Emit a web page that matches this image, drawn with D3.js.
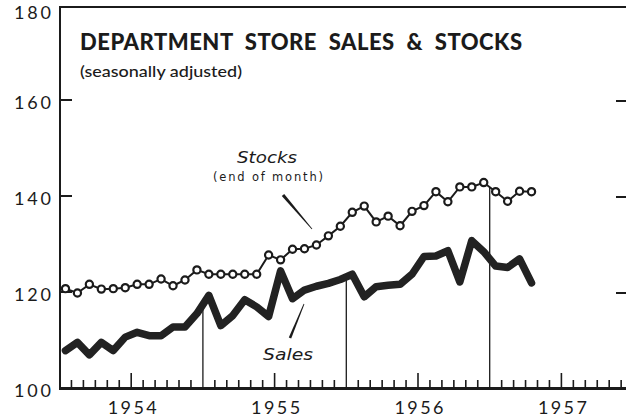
<!DOCTYPE html>
<html>
<head>
<meta charset="utf-8">
<script src="https://cdn.jsdelivr.net/npm/d3@7/dist/d3.min.js"></script>
<style>
  html, body { margin: 0; padding: 0; background: #fff; }
  svg { display: block; }
</style>
</head>
<body>
<svg id="chart" width="626" height="417"></svg>
<script>
// ---- data (monthly, Jan 1954 .. Apr 1957), index 1947-49 = 100 ----
const startYear = 1954;
const yearLabels = ["1954", "1955", "1956", "1957"];
const yTicks = [100, 120, 140, 160, 180];
const stocks = [120.7, 119.8, 121.6, 120.6, 120.7, 120.9, 121.6, 121.6, 122.7, 121.3, 122.5, 124.6,
                123.7, 123.7, 123.7, 123.7, 123.7, 127.7, 126.7, 128.9, 129.0, 129.8, 131.7, 133.7,
                136.6, 137.9, 134.6, 135.8, 133.8, 136.8, 138.0, 140.9, 138.8, 141.9, 141.9, 142.8,
                140.9, 138.9, 141.0, 140.9];
const sales  = [107.8, 109.5, 106.9, 109.5, 107.8, 110.6, 111.6, 110.9, 110.9, 112.7, 112.7, 115.5,
                119.3, 113.0, 115.1, 118.4, 116.9, 114.9, 124.4, 118.6, 120.4, 121.2, 121.8, 122.6,
                123.7, 119.0, 121.1, 121.4, 121.6, 123.7, 127.4, 127.5, 128.6, 122.1, 130.7, 128.4,
                125.4, 125.1, 126.9, 121.9];
// year-end drop lines: month boundary index and the series they rise to
const dropLines = [{ k: 12, series: "sales" }, { k: 24, series: "sales" }, { k: 36, series: "stocks" }];

const svg = d3.select("#chart");
const ink = "#1b1b1b";

const x = d3.scaleLinear().domain([0, 48]).range([59.5, 59.5 + 48 * 11.95]);
const y = d3.scaleLinear().domain([100, 180]).range([388, 4]);
const xRight = 626;

// frame: left axis, top line
svg.append("line").attr("x1", 60).attr("x2", 60).attr("y1", 6).attr("y2", 389)
  .attr("stroke", ink).attr("stroke-width", 2);
svg.append("line").attr("x1", 59).attr("x2", xRight).attr("y1", 7).attr("y2", 7)
  .attr("stroke", ink).attr("stroke-width", 2);

// left and right y ticks
yTicks.filter(v => v > 100 && v < 180).forEach(v => {
  svg.append("line").attr("x1", 60).attr("x2", 72).attr("y1", y(v)).attr("y2", y(v))
    .attr("stroke", ink).attr("stroke-width", 2);
  svg.append("line").attr("x1", 616).attr("x2", xRight).attr("y1", y(v) + 1).attr("y2", y(v) + 1)
    .attr("stroke", ink).attr("stroke-width", 2);
});

// y tick labels
svg.append("g").selectAll("text").data(yTicks).join("text")
  .attr("x", 14)
  .attr("y", v => Math.max(y(v) + 3, 13))
  .attr("dy", "0.36em")
  .attr("textLength", 37).attr("lengthAdjust", "spacing")
  .attr("font-family", "Lato, 'DejaVu Sans', sans-serif")
  .attr("font-size", 18).attr("fill", ink)
  .text(v => v);

// bottom axis
svg.append("line").attr("x1", 59).attr("x2", xRight).attr("y1", 388.5).attr("y2", 388.5)
  .attr("stroke", ink).attr("stroke-width", 3);
const monthTicks = d3.range(1, 48).filter(k => x(k) < xRight - 2 && k % 12 !== 0);
svg.append("g").selectAll("line").data(monthTicks).join("line")
  .attr("x1", k => x(k)).attr("x2", k => x(k))
  .attr("y1", 388).attr("y2", k => k % 12 === 6 ? 373 : 380)
  .attr("stroke", ink).attr("stroke-width", 1.6);

// year labels
svg.append("g").selectAll("text").data(yearLabels).join("text")
  .attr("x", (d, i) => x(i * 12 + 6) + 1)
  .attr("y", 414)
  .attr("text-anchor", "middle")
  .attr("textLength", 49).attr("lengthAdjust", "spacing")
  .attr("font-family", "Lato, 'DejaVu Sans', sans-serif")
  .attr("font-size", 18).attr("fill", ink)
  .text(d => d);

// drop lines at year ends
const seriesMap = { sales, stocks };
dropLines.forEach(d => {
  const arr = seriesMap[d.series];
  const v = (arr[d.k - 1] + arr[d.k]) / 2;
  svg.append("line").attr("x1", x(d.k)).attr("x2", x(d.k))
    .attr("y1", 388).attr("y2", y(v))
    .attr("stroke", ink).attr("stroke-width", 1.3);
});

// sales line (heavy)
const line = d3.line().x((d, i) => x(i + 0.5)).y(d => y(d));
svg.append("path").datum(sales).attr("d", line)
  .attr("fill", "none").attr("stroke", "#222").attr("stroke-width", 7.5)
  .attr("stroke-linejoin", "round").attr("stroke-linecap", "round");

// stocks line with open circles
svg.append("path").datum(stocks).attr("d", line)
  .attr("fill", "none").attr("stroke", ink).attr("stroke-width", 2);
svg.append("g").selectAll("circle").data(stocks).join("circle")
  .attr("cx", (d, i) => x(i + 0.5)).attr("cy", d => y(d)).attr("r", 3.6)
  .attr("fill", "#fff").attr("stroke", ink).attr("stroke-width", 2.2);

// title
svg.append("text").attr("x", 80).attr("y", 50)
  .attr("textLength", 442).attr("lengthAdjust", "spacing")
  .attr("word-spacing", 6)
  .attr("font-family", "Lato, 'DejaVu Sans', sans-serif").attr("font-weight", 900)
  .attr("font-size", 22).attr("fill", ink)
  .text("DEPARTMENT STORE SALES & STOCKS");
svg.append("text").attr("x", 80).attr("y", 77)
  .attr("textLength", 162).attr("lengthAdjust", "spacingAndGlyphs")
  .attr("font-family", "Lato, 'DejaVu Sans', sans-serif").attr("font-weight", 500)
  .attr("font-size", 15).attr("fill", ink)
  .text("(seasonally adjusted)");

// annotations
svg.append("text").attr("x", 237).attr("y", 163)
  .attr("textLength", 60).attr("lengthAdjust", "spacingAndGlyphs")
  .attr("font-family", "'DejaVu Sans', sans-serif").attr("font-style", "italic")
  .attr("font-size", 15).attr("fill", ink).text("Stocks");
svg.append("text").attr("x", 213).attr("y", 181)
  .attr("textLength", 110).attr("lengthAdjust", "spacing")
  .attr("font-family", "'DejaVu Sans', sans-serif")
  .attr("font-size", 11.5).attr("fill", ink).text("(end of month)");
svg.append("text").attr("x", 263).attr("y", 360)
  .attr("textLength", 50).attr("lengthAdjust", "spacingAndGlyphs")
  .attr("font-family", "'DejaVu Sans', sans-serif").attr("font-style", "italic")
  .attr("font-size", 15).attr("fill", ink).text("Sales");

// tapered leader strokes
function taper(x1, y1, w1, x2, y2, w2) {
  const dx = x2 - x1, dy = y2 - y1, L = Math.hypot(dx, dy);
  const nx = -dy / L, ny = dx / L;
  return `M${x1 + nx * w1 / 2},${y1 + ny * w1 / 2} L${x2 + nx * w2 / 2},${y2 + ny * w2 / 2} ` +
         `L${x2 - nx * w2 / 2},${y2 - ny * w2 / 2} L${x1 - nx * w1 / 2},${y1 - ny * w1 / 2} Z`;
}
svg.append("path").attr("d", taper(283, 195, 3.2, 312, 229, 0.8)).attr("fill", ink);
svg.append("path").attr("d", taper(304, 304, 0.8, 290, 338, 2.6)).attr("fill", ink);
</script>
</body>
</html>
